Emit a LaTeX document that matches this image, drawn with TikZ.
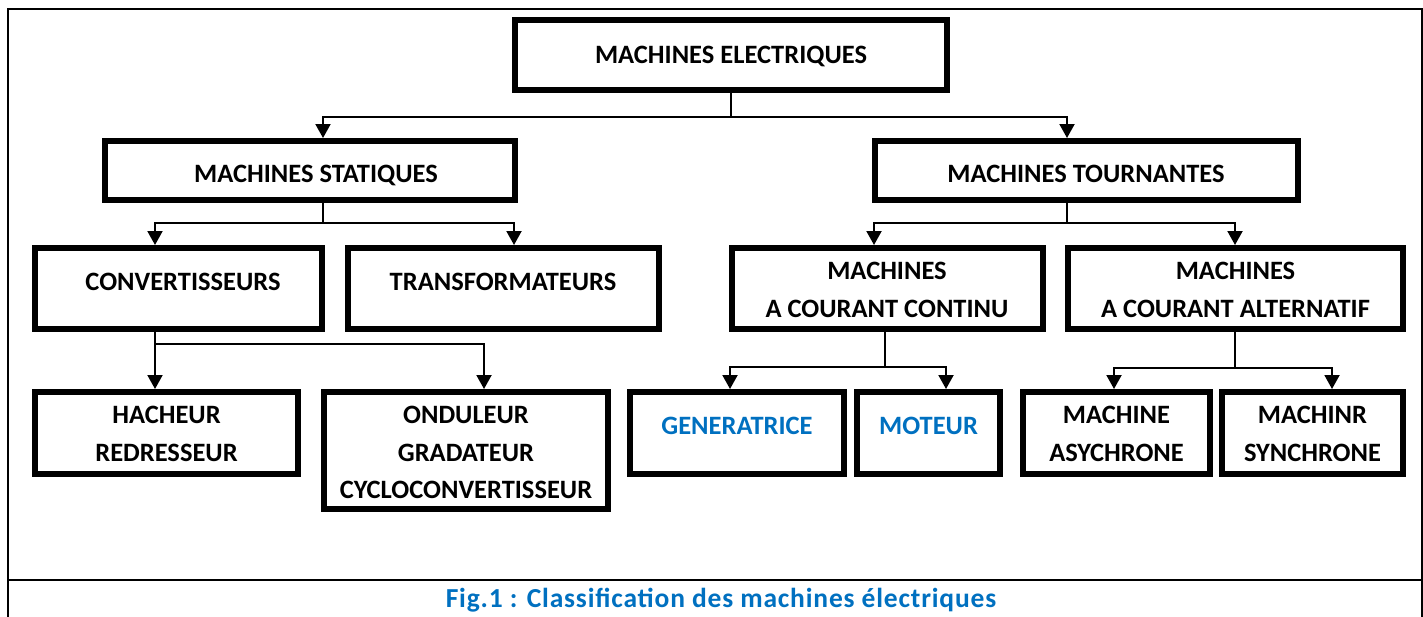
\documentclass[tikz,border=0pt]{standalone}
\usepackage{fontspec}
\setmainfont{Carlito}
\newfontfamily\capfont[LetterSpace=3]{Carlito}
\usetikzlibrary{arrows.meta}
\definecolor{wblue}{HTML}{0070C0}
\tikzset{
  box/.style={draw, rectangle, line width=6pt, inner sep=0pt},
  lbl/.style={anchor=base, inner sep=0pt, font=\fontsize{26.5}{32}\selectfont\bfseries},
  bluelbl/.style={lbl, text=wblue},
  caplbl/.style={anchor=base, inner sep=0pt, text=wblue, font=\capfont\fontsize{27.5}{32}\selectfont\bfseries},
  conn/.style={line width=2pt},
  arr/.style={line width=2pt, -{Triangle[width=15pt,length=14pt]}},
  frame/.style={line width=2.5pt},
}
\begin{document}
\begin{tikzpicture}[x=1pt,y=-1pt]
\useasboundingbox (0,0) rectangle (1423,616);
\draw[frame] (8,9) rectangle (1422,640);
\draw[frame] (8,580) -- (1422,580);

% boxes
\node[box, minimum width=432, minimum height=70] (elec) at (731,55) {};
\node[box, minimum width=410, minimum height=59] (stat) at (310,170.5) {};
\node[box, minimum width=423, minimum height=59] (tour) at (1086.5,170.5) {};
\node[box, minimum width=287, minimum height=81] (conv) at (178.5,288.5) {};
\node[box, minimum width=311, minimum height=81] (trans) at (503.5,288.5) {};
\node[box, minimum width=311, minimum height=81] (cc) at (887.5,288.5) {};
\node[box, minimum width=335, minimum height=81] (ca) at (1235.5,288.5) {};
\node[box, minimum width=263, minimum height=82] (hach) at (166.5,433) {};
\node[box, minimum width=284, minimum height=117] (ond) at (466,450.5) {};
\node[box, minimum width=214, minimum height=82] (gen) at (737,433) {};
\node[box, minimum width=143, minimum height=82] (mot) at (928.5,433) {};
\node[box, minimum width=187, minimum height=82] (asy) at (1116.5,433) {};
\node[box, minimum width=181, minimum height=82] (syn) at (1312.5,433) {};

% texts
\node[lbl] (elec-t) at (731,63) {MACHINES ELECTRIQUES};
\node[lbl] (stat-t) at (316,182) {MACHINES STATIQUES};
\node[lbl] (tour-t) at (1086,182) {MACHINES TOURNANTES};
\node[lbl] (conv-t) at (183,290) {CONVERTISSEURS};
\node[lbl] (trans-t) at (503,290) {TRANSFORMATEURS};
\node[lbl] (cc-t1) at (887,279) {MACHINES};
\node[lbl] (cc-t2) at (887,317) {A COURANT CONTINU};
\node[lbl] (ca-t1) at (1235.5,279) {MACHINES};
\node[lbl] (ca-t2) at (1235.5,317) {A COURANT ALTERNATIF};
\node[lbl] (hach-t1) at (166.5,423) {HACHEUR};
\node[lbl] (hach-t2) at (166.5,461) {REDRESSEUR};
\node[lbl] (ond-t1) at (466,423) {ONDULEUR};
\node[lbl] (ond-t2) at (466,461) {GRADATEUR};
\node[lbl] (ond-t3) at (466,498) {CYCLOCONVERTISSEUR};
\node[bluelbl] (gen-t) at (737,434) {GENERATRICE};
\node[bluelbl] (mot-t) at (928.5,434) {MOTEUR};
\node[lbl] (asy-t1) at (1116.5,423) {MACHINE};
\node[lbl] (asy-t2) at (1116.5,461) {ASYCHRONE};
\node[lbl] (syn-t1) at (1312.5,423) {MACHINR};
\node[lbl] (syn-t2) at (1312.5,461) {SYNCHRONE};
\node[caplbl] (caption) at (721,607) {Fig.1 : Classification des machines électriques};

% junctions
\coordinate (j1) at (731,117);
\coordinate (j2) at (323,223);
\coordinate (j3) at (1067,223);
\coordinate (j4) at (155,344);
\coordinate (j5) at (885,367);
\coordinate (j6) at (1235,368);

% connectors
\draw[conn] (elec.south) -- (j1);
\draw[arr] (j1) -| ([xshift=13]stat.north);
\draw[arr] (j1) -| ([xshift=-19.5]tour.north);

\draw[conn] ([xshift=13]stat.south) -- (j2);
\draw[arr] (j2) -| ([xshift=-23.5]conv.north);
\draw[arr] (j2) -| ([xshift=10.5]trans.north);

\draw[conn] ([xshift=-19.5]tour.south) -- (j3);
\draw[arr] (j3) -| ([xshift=-13.5]cc.north);
\draw[arr] (j3) -| ([xshift=-0.5]ca.north);

\draw[arr] ([xshift=-23.5]conv.south) -- ([xshift=-11.5]hach.north);
\draw[arr] (j4) -| ([xshift=18]ond.north);

\draw[conn] ([xshift=-2.5]cc.south) -- (j5);
\draw[arr] (j5) -| ([xshift=-7]gen.north);
\draw[arr] (j5) -| ([xshift=17.5]mot.north);

\draw[conn] ([xshift=-0.5]ca.south) -- (j6);
\draw[arr] (j6) -| ([xshift=-2.5]asy.north);
\draw[arr] (j6) -| ([xshift=19.5]syn.north);
\end{tikzpicture}
\end{document}
